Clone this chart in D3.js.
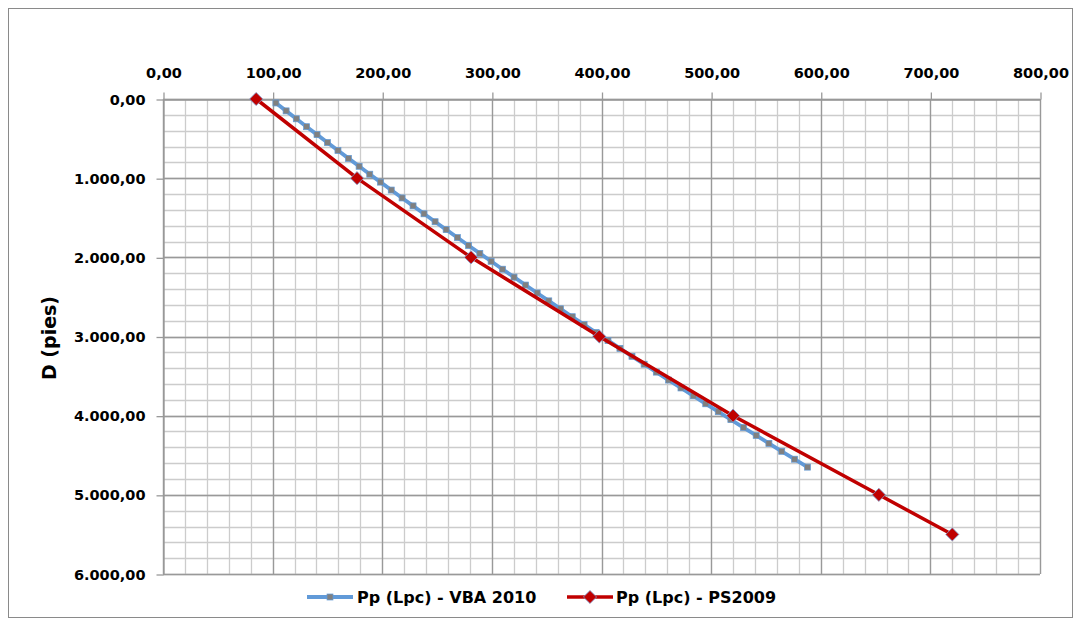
<!DOCTYPE html>
<html>
<head>
<meta charset="utf-8">
<script src="https://cdn.jsdelivr.net/npm/d3@7"></script>
<style>
  html, body { margin: 0; padding: 0; background: #fff; }
  svg { display: block; }
  text { font-family: "DejaVu Sans", sans-serif; font-weight: bold; fill: #000; }
</style>
</head>
<body>
<svg id="chart" width="1080" height="624"></svg>
<script>
// ---- data ----
const xTicks = [0, 100, 200, 300, 400, 500, 600, 700, 800];
const yTicks = [0, 1000, 2000, 3000, 4000, 5000, 6000];
const xMinorStep = 20;
const yMinorStep = 200;

const seriesNames = ["Pp (Lpc) - VBA 2010", "Pp (Lpc) - PS2009"];

// VBA 2010 series: depth (pies) and pressure (Lpc)
const vbaDepth = [50,150,250,350,450,550,650,750,850,950,1050,1150,1250,1350,1450,1550,1650,1750,1850,1950,
  2050,2150,2250,2350,2450,2550,2650,2750,2850,2950,3050,3150,3250,3350,3450,3550,3650,3750,3850,3950,
  4050,4150,4250,4350,4450,4550,4650];
const vbaPress = [103.0,112.3,121.6,131.0,140.5,150.0,159.6,169.2,178.9,188.6,198.4,208.2,218.1,228.1,238.1,248.2,258.3,268.5,278.7,289.0,
  299.3,309.7,320.2,330.7,341.3,351.9,362.6,373.3,384.1,395.0,405.9,416.8,427.8,438.9,450.0,461.2,472.5,483.8,495.1,506.5,
  518.0,529.5,541.1,552.7,564.4,576.1,587.9];

// PS2009 series
const psDepth = [0, 1000, 2000, 3000, 4000, 5000, 5500];
const psPress = [85, 177, 281, 398, 520, 653, 720];

// ---- layout ----
const svg = d3.select("#chart");
const x = d3.scaleLinear().domain([0, 800]).range([163, 1040]);
const y = d3.scaleLinear().domain([0, 6000]).range([99, 574]);

const loc = d3.formatLocale({decimal: ",", thousands: ".", grouping: [3], currency: ["", ""]});
const fmt = loc.format(",.2f");

// outer frame
svg.append("rect").attr("x", 8.5).attr("y", 8.5).attr("width", 1064).attr("height", 609)
  .attr("fill", "#fff").attr("stroke", "#8a8a8a").attr("stroke-width", 1);

// minor grid
const xMinor = d3.range(0, 800 + 1, xMinorStep);
const yMinor = d3.range(0, 6000 + 1, yMinorStep);
const g = svg.append("g");
g.selectAll("line.xm").data(xMinor).join("line")
  .attr("x1", d => Math.round(x(d)) + 0.5).attr("x2", d => Math.round(x(d)) + 0.5)
  .attr("y1", y(0)).attr("y2", y(6000))
  .attr("stroke", "#cccccc").attr("stroke-width", 1.3);
g.selectAll("line.ym").data(yMinor).join("line")
  .attr("y1", d => Math.round(y(d)) + 0.5).attr("y2", d => Math.round(y(d)) + 0.5)
  .attr("x1", x(0)).attr("x2", x(800))
  .attr("stroke", "#cccccc").attr("stroke-width", 1.3);
// major grid
g.selectAll("line.xM").data(xTicks).join("line")
  .attr("x1", d => Math.round(x(d)) + 0.5).attr("x2", d => Math.round(x(d)) + 0.5)
  .attr("y1", y(0)).attr("y2", y(6000))
  .attr("stroke", "#999999").attr("stroke-width", 1.3);
g.selectAll("line.yM").data(yTicks).join("line")
  .attr("y1", d => Math.round(y(d)) + 0.5).attr("y2", d => Math.round(y(d)) + 0.5)
  .attr("x1", x(0)).attr("x2", x(800))
  .attr("stroke", "#999999").attr("stroke-width", 1.3);

// axes
const xAxis = d3.axisTop(x).tickValues(xTicks).tickFormat(fmt).tickSize(7).tickSizeOuter(0).tickPadding(15);
const yAxis = d3.axisLeft(y).tickValues(yTicks).tickFormat(fmt).tickSize(7).tickSizeOuter(0).tickPadding(11);
const gx = svg.append("g").attr("transform", `translate(0.5,${Math.round(y(0)) + 0.5})`).call(xAxis);
const gy = svg.append("g").attr("transform", `translate(${Math.round(x(0)) + 0.5},0.5)`).call(yAxis);
[gx, gy].forEach(a => {
  a.selectAll(".domain").attr("stroke", "#999999").attr("stroke-width", 1.3);
  a.selectAll(".tick line").attr("stroke", "#999999").attr("stroke-width", 1.3);
  a.selectAll(".tick text").attr("font-family", "DejaVu Sans").attr("font-weight", "bold")
    .attr("font-size", "14.5px").attr("fill", "#000");
});

// y axis title
svg.append("text").attr("transform", "translate(56,338) rotate(-90)")
  .attr("text-anchor", "middle").attr("font-size", "19px").text("D (pies)");

// series
const lineGen = d3.line().x(d => x(d[0])).y(d => y(d[1]));
const vba = vbaPress.map((p, i) => [p, vbaDepth[i]]);
const ps = psPress.map((p, i) => [p, psDepth[i]]);

const blue = "#619ad8";
const red = "#c00000";

svg.append("path").datum(vba).attr("d", lineGen).attr("fill", "none")
  .attr("stroke", blue).attr("stroke-width", 3.8).attr("stroke-linejoin", "round");
svg.selectAll("rect.vm").data(vba).join("rect")
  .attr("x", d => x(d[0]) - 3).attr("y", d => y(d[1]) - 3).attr("width", 6).attr("height", 6)
  .attr("fill", "#808080").attr("stroke", blue).attr("stroke-width", 0.7);

svg.append("path").datum(ps).attr("d", lineGen).attr("fill", "none")
  .attr("stroke", red).attr("stroke-width", 3.5).attr("stroke-linejoin", "round");
const diamond = d3.symbol().type(d3.symbolDiamond2).size(110);
svg.selectAll("path.pm").data(ps).join("path")
  .attr("d", diamond).attr("transform", d => `translate(${x(d[0])},${y(d[1])})`)
  .attr("fill", red).attr("stroke", "#7a9fd4").attr("stroke-width", 0.8);

// legend
const ly = 597;
const leg = svg.append("g");
leg.append("line").attr("x1", 307).attr("x2", 353).attr("y1", ly).attr("y2", ly)
  .attr("stroke", blue).attr("stroke-width", 3.8);
leg.append("rect").attr("x", 327).attr("y", ly - 3).attr("width", 6).attr("height", 6)
  .attr("fill", "#808080").attr("stroke", blue).attr("stroke-width", 0.7);
leg.append("text").attr("x", 357).attr("y", ly).attr("dy", "0.36em").attr("font-size", "16px").text(seriesNames[0]);
leg.append("line").attr("x1", 567).attr("x2", 613).attr("y1", ly).attr("y2", ly)
  .attr("stroke", red).attr("stroke-width", 3.5);
leg.append("path").attr("d", diamond).attr("transform", `translate(590,${ly})`)
  .attr("fill", red).attr("stroke", "#7a9fd4").attr("stroke-width", 0.8);
leg.append("text").attr("x", 616).attr("y", ly).attr("dy", "0.36em").attr("font-size", "16px").text(seriesNames[1]);
</script>
</body>
</html>
